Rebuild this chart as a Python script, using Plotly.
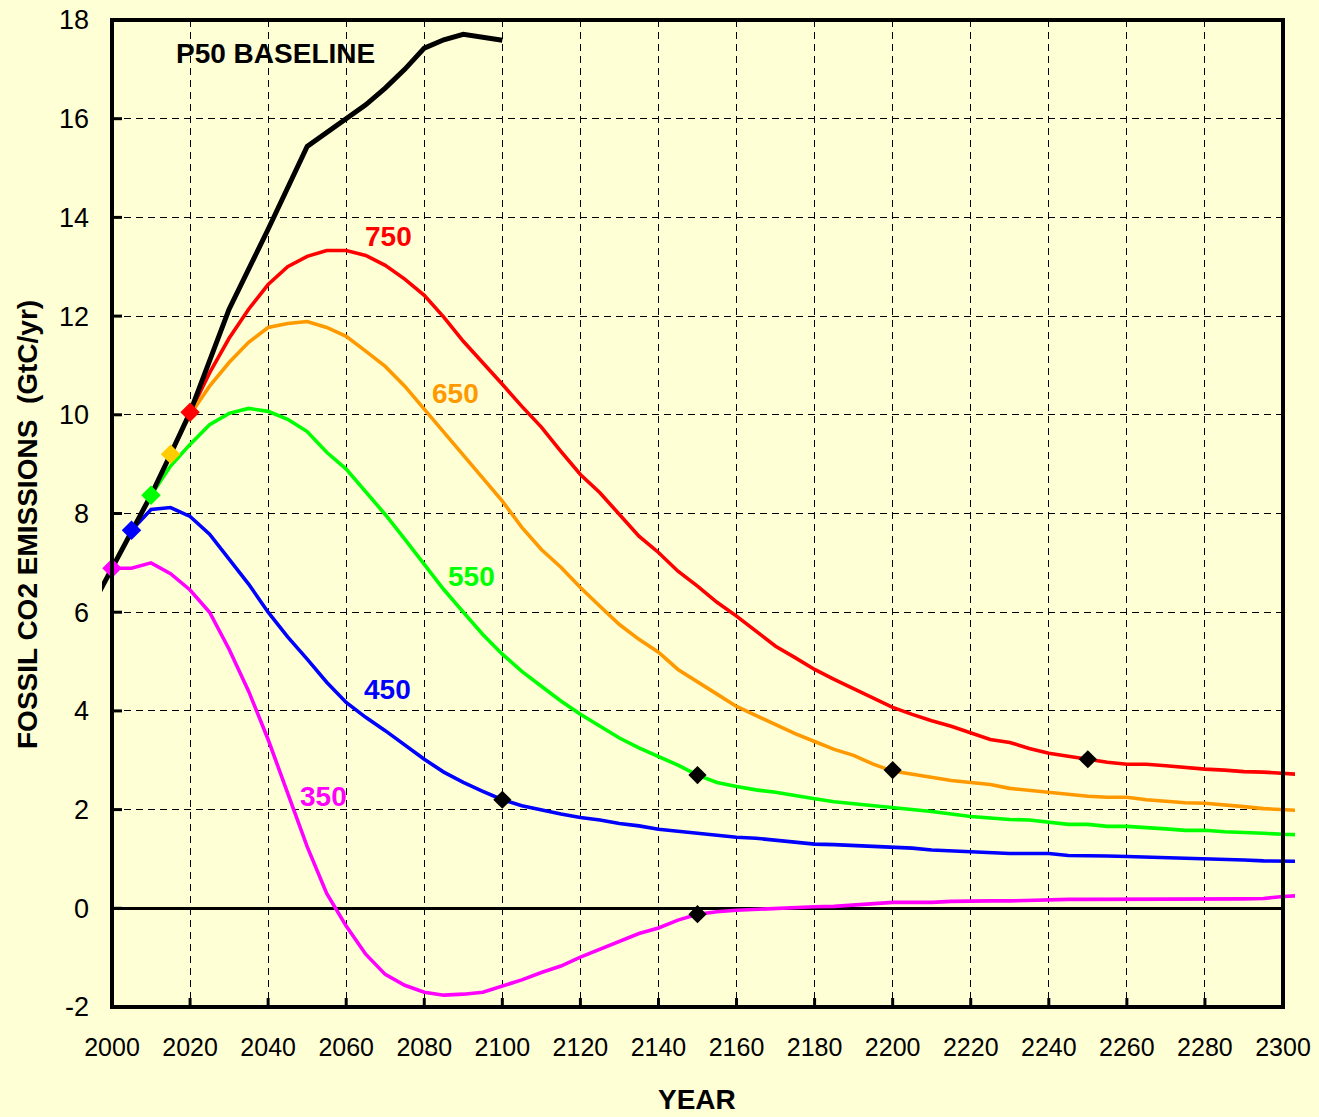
import plotly.graph_objects as go

# ---------------- data ----------------
baseline_years = [1995, 2000, 2005, 2010, 2015, 2020, 2030, 2040, 2050, 2060, 2065, 2070,
                  2075, 2080, 2085, 2090, 2095, 2100]
baseline_vals = [6.15, 6.9, 7.66, 8.37, 9.2, 10.05, 12.14, 13.76, 15.44, 16.0, 16.28, 16.62,
                 17.0, 17.43, 17.6, 17.71, 17.66, 17.59]

red_years = list(range(2020, 2310, 5))
red_vals = [10.05, 10.85, 11.55, 12.14, 12.64, 13.0, 13.21, 13.33, 13.33, 13.23, 13.03,
            12.75, 12.42, 11.98, 11.49, 11.06, 10.62, 10.17, 9.75, 9.26, 8.79, 8.42,
            7.98, 7.54, 7.21, 6.83, 6.53, 6.2, 5.92, 5.61, 5.31, 5.08, 4.84, 4.64,
            4.45, 4.27, 4.07, 3.93, 3.8, 3.69, 3.56, 3.42, 3.36, 3.24, 3.14, 3.08,
            3.02, 2.96, 2.92, 2.92, 2.89, 2.85, 2.82, 2.80, 2.77, 2.76, 2.73, 2.71]

orange_years = list(range(2015, 2310, 5))
orange_vals = [9.2, 10.0, 10.58, 11.06, 11.47, 11.77, 11.85, 11.89, 11.77, 11.59, 11.29,
               10.98, 10.58, 10.11, 9.65, 9.18, 8.72, 8.25, 7.72, 7.27, 6.91, 6.5,
               6.12, 5.75, 5.45, 5.19, 4.84, 4.58, 4.34, 4.09, 3.9, 3.72, 3.54, 3.38,
               3.22, 3.1, 2.92, 2.78, 2.72, 2.66, 2.59, 2.55, 2.51, 2.43, 2.39, 2.35,
               2.3, 2.27, 2.25, 2.25, 2.2, 2.17, 2.14, 2.13, 2.1, 2.06, 2.02, 2.0, 1.98]

green_years = list(range(2010, 2310, 5))
green_vals = [8.37, 8.96, 9.4, 9.8, 10.03, 10.13, 10.07, 9.91, 9.66, 9.24, 8.9, 8.45,
              7.98, 7.48, 6.97, 6.46, 6.0, 5.55, 5.15, 4.8, 4.5, 4.2, 3.93, 3.7, 3.45,
              3.25, 3.08, 2.9, 2.7, 2.55, 2.47, 2.4, 2.35, 2.28, 2.22, 2.16, 2.12, 2.08,
              2.05, 2.0, 1.96, 1.91, 1.86, 1.83, 1.8, 1.79, 1.74, 1.7, 1.7, 1.66, 1.66,
              1.64, 1.61, 1.58, 1.58, 1.55, 1.54, 1.52, 1.5, 1.49]

blue_years = list(range(2005, 2310, 5))
blue_vals = [7.66, 8.08, 8.12, 7.94, 7.58, 7.07, 6.57, 6.0, 5.5, 5.05, 4.58, 4.17, 3.87,
             3.6, 3.3, 3.02, 2.76, 2.55, 2.37, 2.2, 2.08, 1.99, 1.91, 1.84, 1.79, 1.72,
             1.67, 1.6, 1.56, 1.52, 1.48, 1.44, 1.42, 1.38, 1.34, 1.3, 1.29, 1.27, 1.26,
             1.24, 1.22, 1.18, 1.16, 1.14, 1.13, 1.11, 1.11, 1.11, 1.07, 1.07, 1.06,
             1.05, 1.04, 1.03, 1.02, 1.0, 0.99, 0.98, 0.96, 0.95, 0.95]

magenta_years = list(range(2000, 2310, 5))
magenta_vals = [6.89, 6.89, 7.0, 6.78, 6.45, 6.0, 5.25, 4.4, 3.42, 2.35, 1.25, 0.3,
                -0.36, -0.93, -1.34, -1.56, -1.7, -1.76, -1.74, -1.7, -1.58, -1.45,
                -1.3, -1.17, -0.99, -0.83, -0.66, -0.51, -0.4, -0.24, -0.12, -0.07,
                -0.04, -0.02, 0.0, 0.01, 0.03, 0.04, 0.07, 0.1, 0.12, 0.12, 0.12, 0.14,
                0.15, 0.15, 0.15, 0.16, 0.18, 0.18, 0.18, 0.18, 0.18, 0.18, 0.18, 0.18,
                0.18, 0.18, 0.19, 0.2, 0.24, 0.26]

start_years = [2000, 2005, 2010, 2015, 2020]
start_vals = [6.89, 7.66, 8.37, 9.2, 10.05]
start_colors = ["#FF00FF", "#0000FF", "#00FF00", "#FFCC00", "#FF0000"]

stab_years = [2100, 2150, 2200, 2250, 2150]
stab_vals = [2.2, 2.7, 2.8, 3.02, -0.12]

scenario_labels = ["750", "650", "550", "450", "350"]
label_x = [2070.8, 2088.1, 2092.2, 2070.7, 2054.1]
label_y = [13.61, 10.44, 6.73, 4.44, 2.27]
label_colors = ["#FF0000", "#FF9900", "#00FF00", "#0000FF", "#FF00FF"]

x_ticks = list(range(2000, 2320, 20))
y_ticks = list(range(-2, 20, 2))
y_ticktext = [str(v) for v in y_ticks]

# ---------------- layout geometry ----------------
W, H = 1319, 1117
ML, MR, MT, MB = 102, 24, 20, 110
PW = W - ML - MR
PH = H - MT - MB
ax_left, ax_right = 112, 1283
pxyr = (ax_right - ax_left) / 300.0
d0 = (ax_left - ML) / PW
d1 = (ax_right - ML) / PW
x2_lo = 2000 - (ax_left - ML) / pxyr
x2_hi = 2300 + (W - MR - ax_right) / pxyr

FONT = "Liberation Sans, Arial, sans-serif"
BG = "#FFFFD5"

fig = go.Figure()

def line(xs, ys, color, width):
    fig.add_trace(go.Scatter(x=xs, y=ys, mode="lines", xaxis="x2", yaxis="y2",
                             line=dict(color=color, width=width), showlegend=False,
                             hoverinfo="skip"))

line(red_years, red_vals, "#FF0000", 3.6)
line(orange_years, orange_vals, "#FF9900", 3.6)
line(green_years, green_vals, "#00FF00", 3.6)
line(blue_years, blue_vals, "#0000FF", 3.6)
line(magenta_years, magenta_vals, "#FF00FF", 3.6)
line(baseline_years, baseline_vals, "#000000", 5)

fig.add_trace(go.Scatter(x=start_years, y=start_vals, mode="markers", xaxis="x2", yaxis="y2",
                         marker=dict(symbol="diamond", size=15, color=start_colors,
                                     line=dict(width=0)),
                         showlegend=False, hoverinfo="skip"))
fig.add_trace(go.Scatter(x=stab_years, y=stab_vals, mode="markers", xaxis="x2", yaxis="y2",
                         marker=dict(symbol="diamond", size=14, color="#000000",
                                     line=dict(width=0)),
                         showlegend=False, hoverinfo="skip"))

annotations = []
annotations.append(dict(x=2041.9, y=17.33, xref="x", yref="y", text="<b>P50 BASELINE</b>",
                        showarrow=False, font=dict(family=FONT, size=28, color="#000000")))
for t, x, y, c in zip(scenario_labels, label_x, label_y, label_colors):
    annotations.append(dict(x=x, y=y, xref="x", yref="y", text="<b>%s</b>" % t,
                            showarrow=False, font=dict(family=FONT, size=28, color=c)))
annotations.append(dict(x=(27 - ML) / PW, y=(MT + PH - 525) / PH, xref="paper", yref="paper",
                        text="<b>FOSSIL CO2 EMISSIONS \u00a0(GtC/yr)</b>", textangle=-90,
                        showarrow=False, xanchor="center", yanchor="middle",
                        font=dict(family=FONT, size=28, color="#000000")))
annotations.append(dict(x=(697 - ML) / PW, y=(MT + PH - 1099) / PH, xref="paper", yref="paper",
                        text="<b>YEAR</b>", showarrow=False, xanchor="center", yanchor="middle",
                        font=dict(family=FONT, size=28, color="#000000")))

# frame (paper coords so it is not clipped) and inward tick marks
shapes = [dict(type="rect", xref="paper", yref="paper", x0=d0, x1=d1, y0=0, y1=1,
               line=dict(color="#000000", width=4), layer="above")]
for xv in x_ticks[1:-1]:
    shapes.append(dict(type="line", xref="x", yref="paper", x0=xv, x1=xv, y0=0, y1=9 / PH,
                       line=dict(color="#000000", width=3), layer="above"))
for yv in y_ticks[1:-1]:
    shapes.append(dict(type="line", xref="paper", yref="y", x0=d0, x1=d0 + 10 / PW, y0=yv, y1=yv,
                       line=dict(color="#000000", width=3), layer="above"))

fig.update_layout(
    width=W, height=H,
    margin=dict(l=ML, r=MR, t=MT, b=MB, autoexpand=False),
    paper_bgcolor=BG,
    plot_bgcolor="rgba(0,0,0,0)",
    showlegend=False,
    xaxis=dict(domain=[d0, d1], range=[2000, 2300], tickvals=x_ticks,
               ticktext=[str(v) for v in x_ticks], ticks="", showgrid=True,
               gridcolor="#000000", gridwidth=1,
               griddash="7px,5px", zeroline=False, showline=False, automargin=False,
               tickfont=dict(family=FONT, size=25, color="#000000"),
               ticklabelstandoff=23, anchor="y"),
    yaxis=dict(domain=[0, 1], range=[-2, 18], tickvals=y_ticks, ticktext=y_ticktext,
               ticks="", showgrid=True, gridcolor="#000000",
               gridwidth=1, griddash="7px,5px", zeroline=True, zerolinecolor="#000000",
               zerolinewidth=3, showline=False, automargin=False,
               tickfont=dict(family=FONT, size=27, color="#000000"),
               ticklabelstandoff=22, anchor="x"),
    xaxis2=dict(domain=[0, 1], range=[x2_lo, x2_hi], visible=False, anchor="y2",
                showgrid=False, zeroline=False, automargin=False),
    yaxis2=dict(domain=[0, 1], range=[-2, 18], visible=False, anchor="x2",
                showgrid=False, zeroline=False, automargin=False),
    annotations=annotations,
    shapes=shapes,
)

fig.write_html("out.html")
